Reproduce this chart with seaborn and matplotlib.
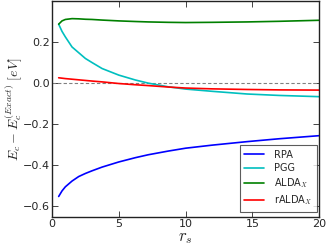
import numpy as np
import pandas as pd
import seaborn as sns
import matplotlib
matplotlib.use("Agg")
import matplotlib.pyplot as plt

# r_s grid and correlation energy errors (eV)
rs = [0.5, 0.75, 1, 1.5, 2, 2.5, 3, 3.75, 5, 6.25, 7.2, 8.7, 10, 12, 14.6, 17, 20]
rpa = [-0.552, -0.525, -0.505, -0.477, -0.455, -0.440, -0.427, -0.409, -0.384, -0.363, -0.349, -0.331, -0.317, -0.302, -0.285, -0.271, -0.256]
pgg = [0.287, 0.252, 0.225, 0.176, 0.148, 0.120, 0.100, 0.071, 0.039, 0.015, 0.000, -0.018, -0.029, -0.040, -0.053, -0.060, -0.066]
alda = [0.287, 0.303, 0.310, 0.314, 0.313, 0.311, 0.310, 0.307, 0.303, 0.300, 0.298, 0.296, 0.295, 0.296, 0.298, 0.301, 0.306]
ralda = [0.026, 0.024, 0.022, 0.019, 0.016, 0.013, 0.010, 0.006, -0.002, -0.008, -0.012, -0.019, -0.024, -0.028, -0.031, -0.033, -0.034]

labels = ["RPA", "PGG", r"ALDA$_X$", r"rALDA$_X$"]
colors = ["#0000ff", "#00bfbf", "#008000", "#ff0000"]

df = pd.concat([pd.DataFrame({"rs": rs, "err": v, "method": lab})
                for v, lab in zip([rpa, pgg, alda, ralda], labels)])

sns.set_style("ticks")
plt.rcParams["mathtext.fontset"] = "cm"

fig = plt.figure(figsize=(3.27, 2.45), dpi=100)
ax = fig.add_axes([0.159, 0.116, 0.817, 0.88])

ax.axhline(0, color="grey", ls="--", lw=0.8, dashes=(3, 2))
sns.lineplot(data=df, x="rs", y="err", hue="method", palette=dict(zip(labels, colors)),
             lw=1.2, ax=ax, legend=True)

ax.set_xlim(0, 20)
ax.set_ylim(-0.65, 0.4)
ax.set_xticks([0, 5, 10, 15, 20])
ax.set_yticks([-0.6, -0.4, -0.2, 0.0, 0.2])
ax.set_yticklabels(["\u22120.6", "\u22120.4", "\u22120.2", "0.0", "0.2"])
ax.tick_params(direction="in", top=True, right=True, labelsize=8, length=4, width=0.6, pad=1.5)
for s in ax.spines.values():
    s.set_linewidth(1.0)
    s.set_color("#222222")

ax.set_xlabel(r"$r_s$", fontsize=12, labelpad=-0.5)
ax.set_ylabel(r"$E_c - E_c^{(Exact)}\ [eV]$", fontsize=10, labelpad=-1)

leg = ax.legend(loc="lower right", bbox_to_anchor=(317 / 327, 1 - 212 / 245),
                bbox_transform=fig.transFigure, borderaxespad=0,
                fontsize=7, frameon=True, fancybox=False,
                edgecolor="#333333", handlelength=2.0, handletextpad=1.0,
                borderpad=0.5, labelspacing=0.35)
leg.get_frame().set_linewidth(0.8)

fig.savefig("out.png", dpi=100)
